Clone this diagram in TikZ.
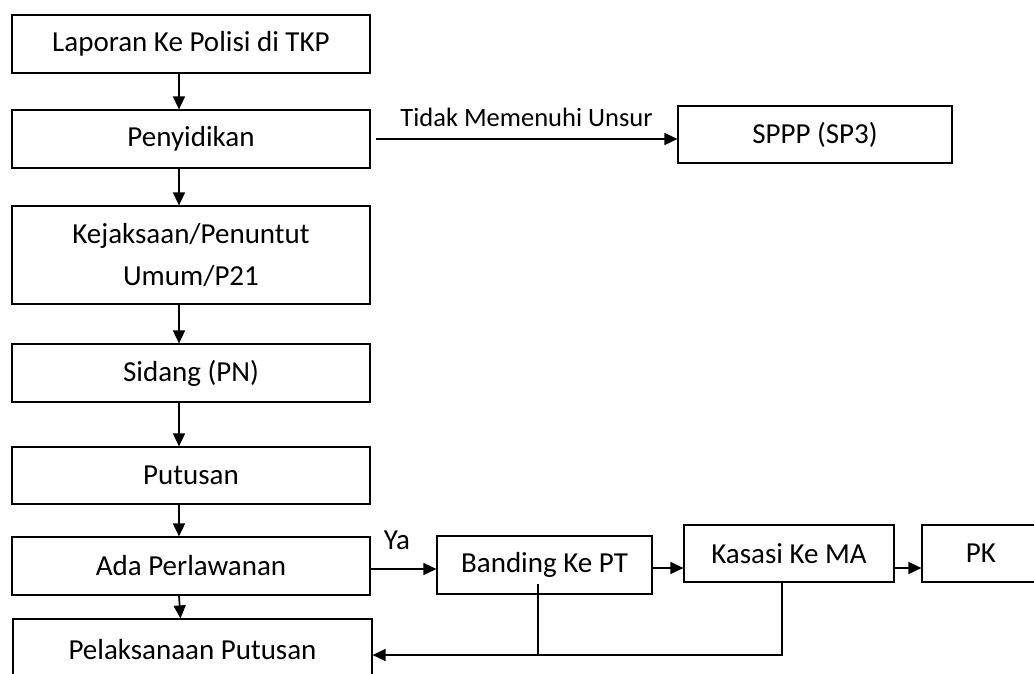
\documentclass[tikz,border=0pt]{standalone}
\usepackage{fontspec}
\setmainfont{Carlito}
\usetikzlibrary{arrows.meta, positioning}

\begin{document}
\begin{tikzpicture}[x=1pt,y=-1pt,>={Triangle[length=13pt,width=12pt]},
        every node/.style={font=\fontsize{29}{42}\selectfont},
        box/.style={draw,line width=1.2pt,inner sep=0pt,align=center,minimum height=58pt},
        flow/.style={->,line width=1.7pt},
        tag/.style={font=\fontsize{26.5}{32}\selectfont}]
    \path[use as bounding box,clip] (0,0) rectangle (1034,673);

      \node[box,minimum width=358pt]                    (laporan)  at (191,44)    {Laporan Ke Polisi di TKP};
      \node[box,minimum width=358pt]                    (sidik)    at (191,139)   {Penyidikan};
      \node[box,minimum width=358pt,minimum height=98pt] (jaksa)   at (191,255)   {Kejaksaan/Penuntut\\Umum/P21};
      \node[box,minimum width=358pt]                    (sidang)   at (191,373)   {Sidang (PN)};
      \node[box,minimum width=358pt,minimum height=57pt] (putusan) at (191,475.5) {Putusan};
      \node[box,minimum width=358pt]                    (lawan)    at (191,566)   {Ada Perlawanan};
      \node[box,minimum width=359pt,minimum height=62pt] (laksana) at (192.5,650) {Pelaksanaan Putusan};
      \node[box,minimum width=274pt,minimum height=57pt] (sppp)    at (815,134.5) {SPPP (SP3)};
      \node[box,minimum width=215pt]                    (banding)  at (544.5,565) {Banding Ke PT};
      \node[box,minimum width=210pt,minimum height=57pt] (kasasi)  at (789,553.5) {Kasasi Ke MA};
      \node[box,minimum width=118pt,minimum height=57pt] (pk)      at (981,553.5) {PK};

      \coordinate (bdtop) at (538,584);
      \coordinate (bdend) at (538,655);
      \coordinate (ksend) at (782,655);

      \path[flow] ([xshift=-12pt]laporan.south) edge ([xshift=-12pt]sidik.north)
                  ([xshift=-12pt]sidik.south)   edge ([xshift=-12pt]jaksa.north)
                  ([xshift=-12pt]jaksa.south)   edge ([xshift=-12pt]sidang.north)
                  ([xshift=-12pt]sidang.south)  edge ([xshift=-12pt]putusan.north)
                  ([xshift=-12pt]putusan.south) edge ([xshift=-12pt]lawan.north)
                  ([xshift=-12pt]lawan.south)   edge ([xshift=-12pt]laksana.north)
                  ([xshift=5pt]sidik.east) edge node[tag,above=8pt] {Tidak Memenuhi Unsur} (sppp.west |- sidik.east)
                  ([yshift=-3pt]lawan.east) edge node[pos=0,anchor=base west,xshift=9pt,yshift=20pt] {Ya} ([yshift=-3pt]banding.west |- lawan.east)
                  ([yshift=-3pt]banding.east) edge ([yshift=-3pt]kasasi.west |- banding.east)
                  ([yshift=-3pt]kasasi.east |- banding.east) edge ([yshift=-3pt]pk.west |- banding.east);

      \draw[line width=1.2pt] (bdtop) -- (bdend);
      \draw[flow] (kasasi.south -| ksend) -- (ksend) -- (laksana.east |- ksend);
\end{tikzpicture}
\end{document}
